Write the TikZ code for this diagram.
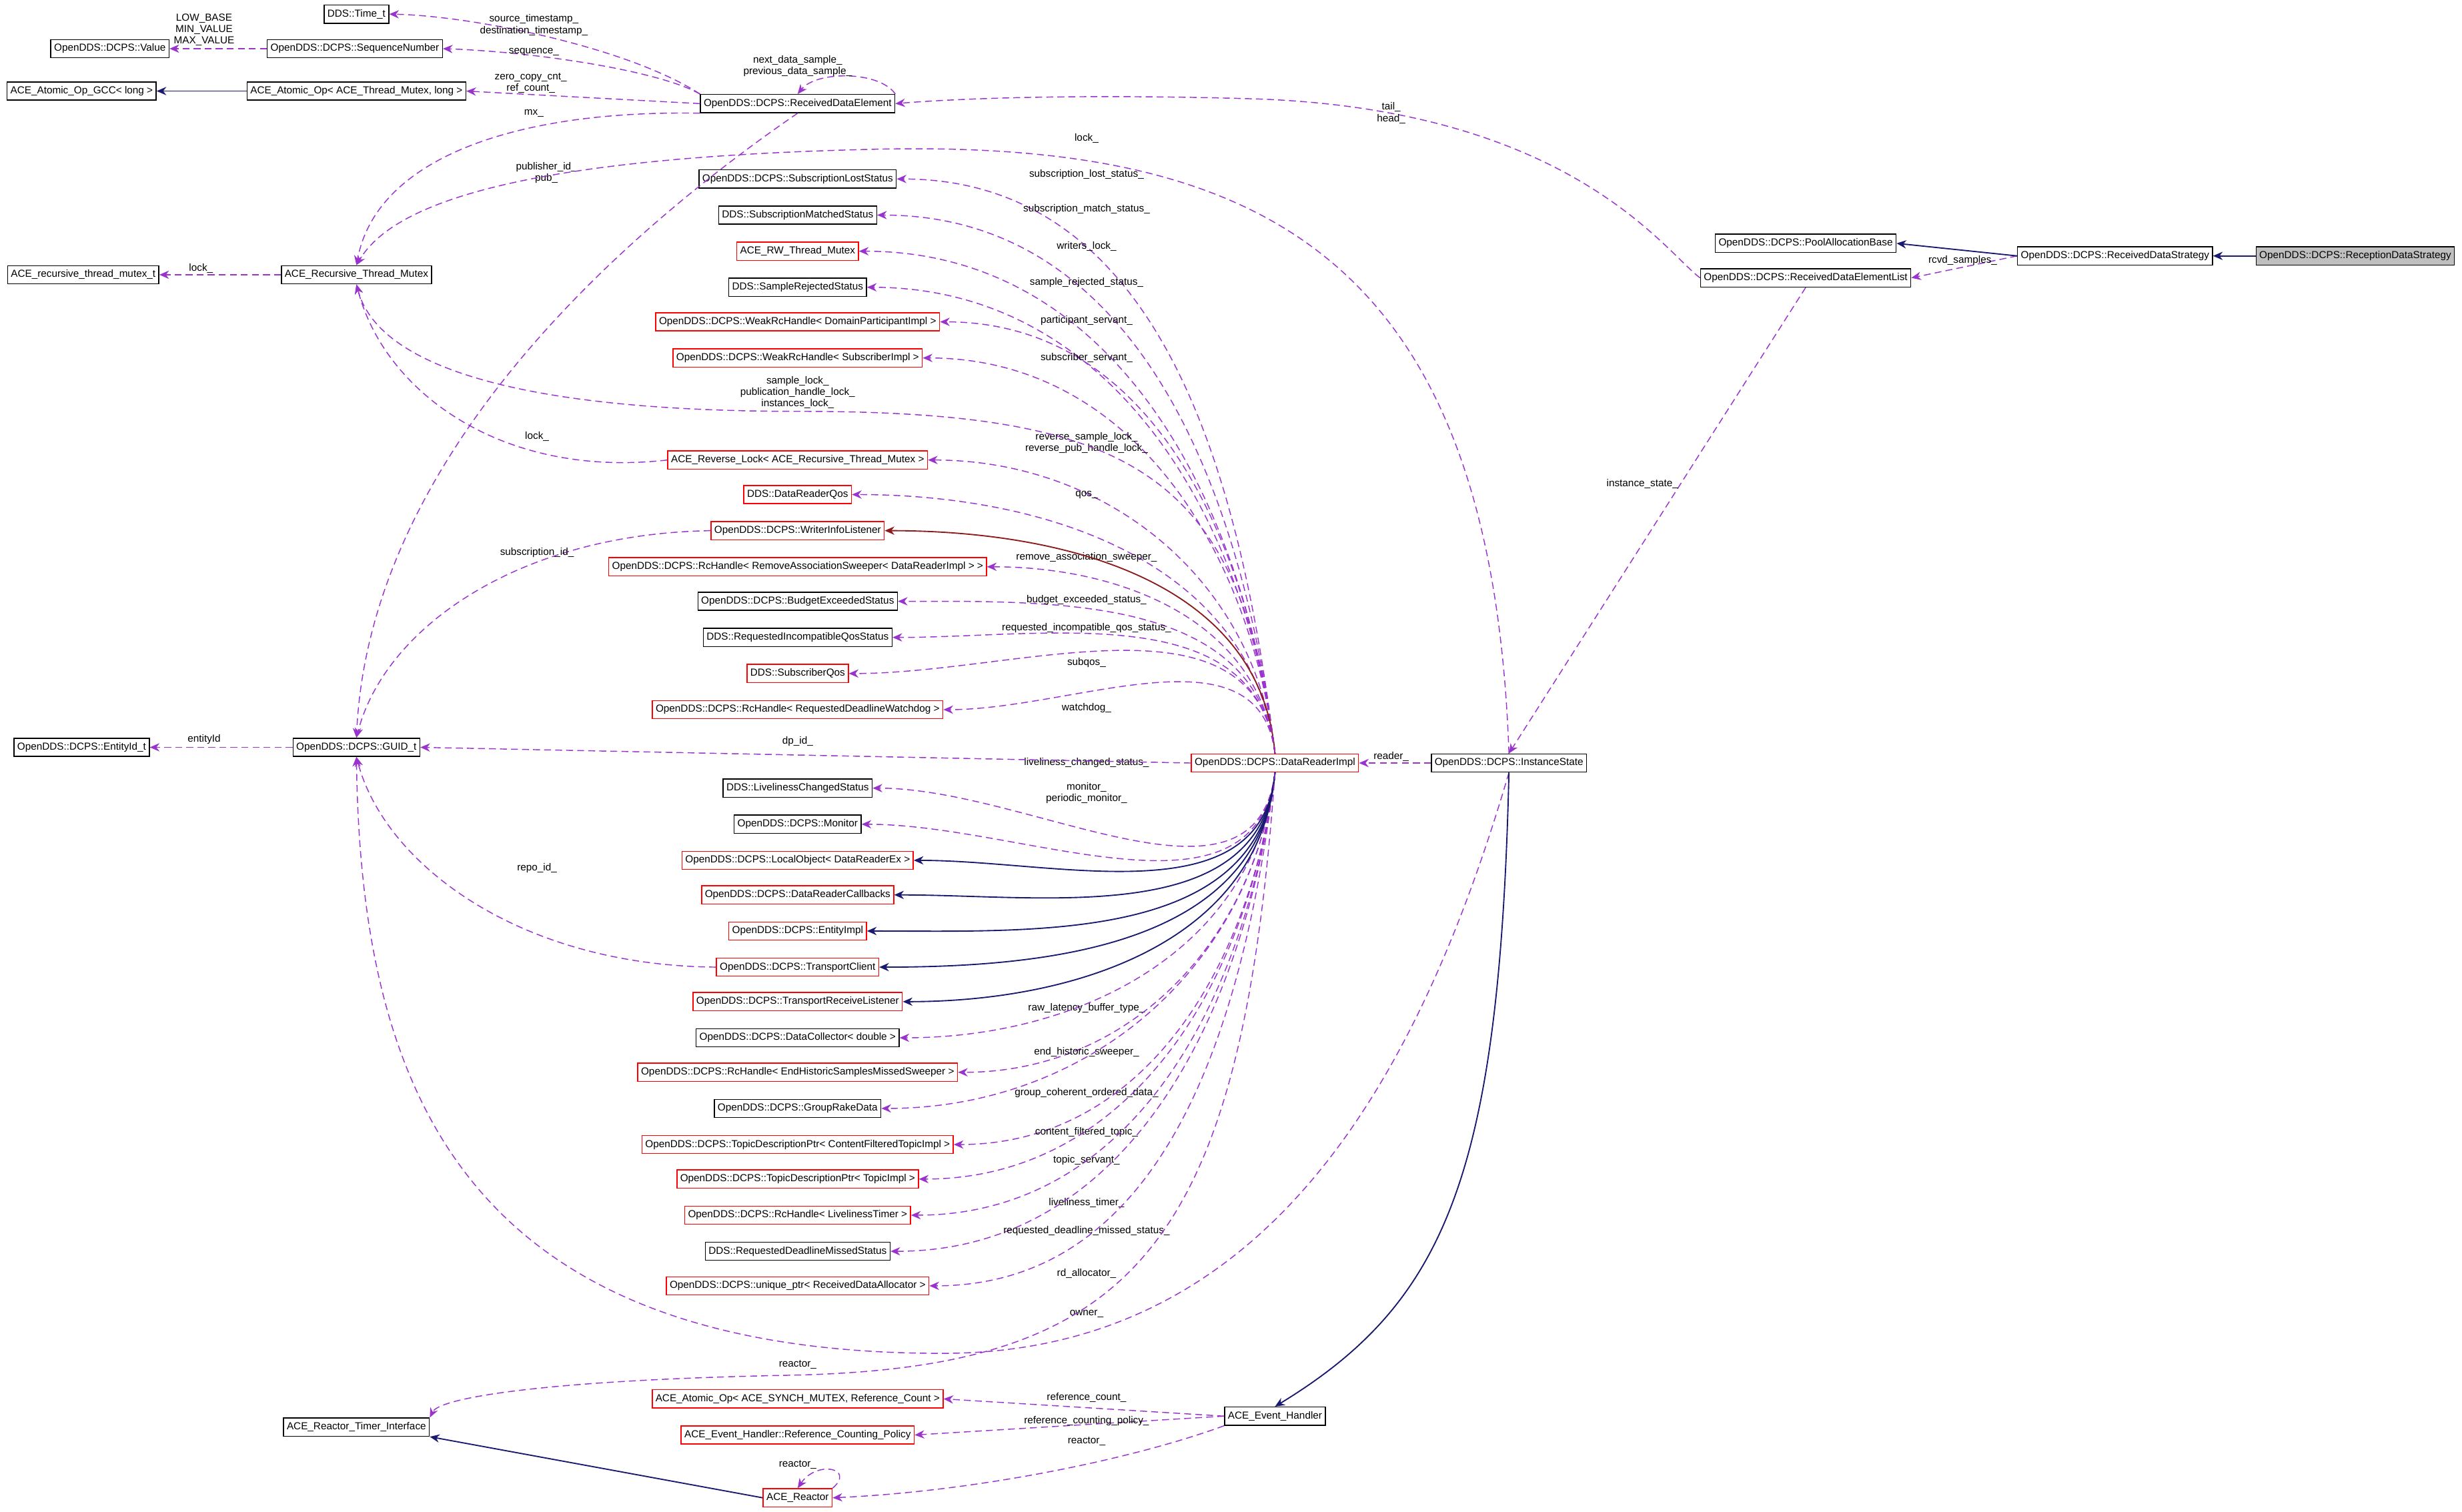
\documentclass[tikz,border=0pt]{standalone}
\usepackage{fontspec}
\setmainfont{Liberation Sans}
\usetikzlibrary{arrows.meta}
\definecolor{assoc}{HTML}{9A32CD}
\definecolor{inherit}{HTML}{191970}
\definecolor{prot}{HTML}{8B1A1A}
\catcode`\_=12

\begin{document}
\begin{tikzpicture}[x=0.02cm,y=-0.02cm,
  cls/.style={draw=black,fill=white,inner sep=1.2pt,minimum height=6.6pt,line width=0.35pt,font=\fontsize{3.7}{4.4}\selectfont},
  part/.style={cls,draw=red},
  here/.style={cls,fill=black!25},
  lbl/.style={font=\fontsize{3.7}{4.2}\selectfont,align=center,inner sep=0.5pt},
  usedby/.style={assoc,dash pattern=on 2.5pt off 1.5pt,line width=0.35pt,-{Stealth[length=3.5pt,width=3pt]}},
  isa/.style={inherit,line width=0.45pt,-{Stealth[length=3.5pt,width=3pt]}},
  protisa/.style={prot,line width=0.45pt,-{Stealth[length=3.5pt,width=3pt]}}]
  \useasboundingbox (0,0) rectangle (1568,963);

  % left column
  \node[cls] (val) at (70,31) {OpenDDS::DCPS::Value};
  \node[cls] (seq) at (226,31) {OpenDDS::DCPS::SequenceNumber};
  \node[cls] (time) at (227,9) {DDS::Time_t};
  \node[cls] (gcc) at (52,58) {ACE_Atomic_Op_GCC< long >};
  \node[cls] (aop) at (227,58) {ACE_Atomic_Op< ACE_Thread_Mutex, long >};
  \node[cls] (rde) at (508,66) {OpenDDS::DCPS::ReceivedDataElement};
  \node[cls] (rmt) at (53,175) {ACE_recursive_thread_mutex_t};
  \node[cls] (rtm) at (227,175) {ACE_Recursive_Thread_Mutex};
  \node[cls] (eid) at (52,476) {OpenDDS::DCPS::EntityId_t};
  \node[cls] (guid) at (227,476) {OpenDDS::DCPS::GUID_t};
  \node[cls] (rti) at (227,909) {ACE_Reactor_Timer_Interface};
  \node[part] (reac) at (508,954) {ACE_Reactor};

  % middle column
  \node[cls] (sls) at (508,114) {OpenDDS::DCPS::SubscriptionLostStatus};
  \node[cls] (sms) at (508,137) {DDS::SubscriptionMatchedStatus};
  \node[part] (rw) at (508,160) {ACE_RW_Thread_Mutex};
  \node[cls] (srs) at (508,183) {DDS::SampleRejectedStatus};
  \node[part] (dpi) at (508,205) {OpenDDS::DCPS::WeakRcHandle< DomainParticipantImpl >};
  \node[part] (subi) at (508,228) {OpenDDS::DCPS::WeakRcHandle< SubscriberImpl >};
  \node[part] (rev) at (508,293) {ACE_Reverse_Lock< ACE_Recursive_Thread_Mutex >};
  \node[part] (qos) at (508,315) {DDS::DataReaderQos};
  \node[part] (wil) at (508,338) {OpenDDS::DCPS::WriterInfoListener};
  \node[part] (ras) at (508,361) {OpenDDS::DCPS::RcHandle< RemoveAssociationSweeper< DataReaderImpl > >};
  \node[cls] (bes) at (508,383) {OpenDDS::DCPS::BudgetExceededStatus};
  \node[cls] (riqs) at (508,406) {DDS::RequestedIncompatibleQosStatus};
  \node[part] (sqos) at (508,429) {DDS::SubscriberQos};
  \node[part] (wd) at (508,452) {OpenDDS::DCPS::RcHandle< RequestedDeadlineWatchdog >};
  \node[cls] (lcs) at (508,502) {DDS::LivelinessChangedStatus};
  \node[cls] (mon) at (508,525) {OpenDDS::DCPS::Monitor};
  \node[part] (lo) at (508,548) {OpenDDS::DCPS::LocalObject< DataReaderEx >};
  \node[part] (cb) at (508,570) {OpenDDS::DCPS::DataReaderCallbacks};
  \node[part] (ei) at (508,593) {OpenDDS::DCPS::EntityImpl};
  \node[part] (tc) at (508,616) {OpenDDS::DCPS::TransportClient};
  \node[part] (trl) at (508,638) {OpenDDS::DCPS::TransportReceiveListener};
  \node[cls] (dc) at (508,661) {OpenDDS::DCPS::DataCollector< double >};
  \node[part] (ehs) at (508,683) {OpenDDS::DCPS::RcHandle< EndHistoricSamplesMissedSweeper >};
  \node[cls] (grd) at (508,706) {OpenDDS::DCPS::GroupRakeData};
  \node[part] (cft) at (508,729) {OpenDDS::DCPS::TopicDescriptionPtr< ContentFilteredTopicImpl >};
  \node[part] (tpi) at (508,751) {OpenDDS::DCPS::TopicDescriptionPtr< TopicImpl >};
  \node[part] (lt) at (508,774) {OpenDDS::DCPS::RcHandle< LivelinessTimer >};
  \node[cls] (rdms) at (508,797) {DDS::RequestedDeadlineMissedStatus};
  \node[part] (rda) at (508,819) {OpenDDS::DCPS::unique_ptr< ReceivedDataAllocator >};
  \node[part] (rc) at (508,891) {ACE_Atomic_Op< ACE_SYNCH_MUTEX, Reference_Count >};
  \node[part] (rcp) at (508,914) {ACE_Event_Handler::Reference_Counting_Policy};

  % right side
  \node[part] (dri) at (812,486) {OpenDDS::DCPS::DataReaderImpl};
  \node[cls] (is) at (961,486) {OpenDDS::DCPS::InstanceState};
  \node[cls] (eh) at (812,902) {ACE_Event_Handler};
  \node[cls] (pab) at (1150,155) {OpenDDS::DCPS::PoolAllocationBase};
  \node[cls] (rdel) at (1150,177) {OpenDDS::DCPS::ReceivedDataElementList};
  \node[cls] (rds) at (1347,163) {OpenDDS::DCPS::ReceivedDataStrategy};
  \node[here] (rcs) at (1500,163) {OpenDDS::DCPS::ReceptionDataStrategy};

  % edges from the data reader
  \foreach \t/\ly/\txt in {sls/111/subscription_lost_status_, sms/133/subscription_match_status_,
      rw/157/writers_lock_, srs/180/sample_rejected_status_, dpi/204/participant_servant_,
      subi/228/subscriber_servant_, rev/282/{reverse_sample_lock_\\reverse_pub_handle_lock_},
      qos/315/qos_, ras/355/remove_association_sweeper_, bes/382/budget_exceeded_status_,
      riqs/400/requested_incompatible_qos_status_, sqos/422/subqos_, wd/451/watchdog_}{
    \draw[usedby] (dri.north) to[out=97,in=0] (\t.east);
    \node[lbl] at (692,\ly) {\txt};
  }
  \foreach \t/\ly/\txt in {lcs/486/liveliness_changed_status_, mon/505/{monitor_\\periodic_monitor_},
      dc/642/raw_latency_buffer_type_, ehs/670/end_historic_sweeper_, grd/696/group_coherent_ordered_data_,
      cft/721/content_filtered_topic_, tpi/739/topic_servant_, lt/766/liveliness_timer_,
      rdms/784/requested_deadline_missed_status_, rda/811/rd_allocator_}{
    \draw[usedby] (dri.south) to[out=-97,in=0] (\t.east);
    \node[lbl] at (692,\ly) {\txt};
  }
  \foreach \t in {lo,cb,ei,tc,trl}
    \draw[isa] (dri.south) to[out=-95,in=0] (\t.east);
  \draw[protisa] (dri.north) to[out=95,in=0] (wil.east);
  \draw[usedby] (dri.west) -- (guid.east);
  \node[lbl] at (508,472) {dp_id_};

  % received data element
  \draw[usedby] (rde.north west) .. controls (400,30) and (300,10) .. (time.east);
  \node[lbl] at (340,16) {source_timestamp_\\destination_timestamp_};
  \draw[usedby] (rde.north west) .. controls (420,45) and (340,33) .. (seq.east);
  \node[lbl] at (340,33) {sequence_};
  \draw[usedby] (seq.west) -- (val.east);
  \node[lbl] at (130,19) {LOW_BASE\\MIN_VALUE\\MAX_VALUE};
  \draw[isa] (aop.west) -- (gcc.east);
  \draw[usedby] (rde.west) -- (aop.east);
  \node[lbl] at (338,53) {zero_copy_cnt_\\ref_count_};
  \draw[usedby] (rde.north east) .. controls (560,45) and (520,45) .. (rde.north);
  \node[lbl] at (508,42) {next_data_sample_\\previous_data_sample_};
  \draw[usedby] (rde.south west) .. controls (330,70) and (240,100) .. (rtm.north);
  \node[lbl] at (340,72) {mx_};
  \draw[usedby] (rde.south) .. controls (380,160) and (235,300) .. (guid.north);
  \node[lbl] at (348,110) {publisher_id_\\pub_};

  % mutexes and ids
  \draw[usedby] (rtm.west) -- (rmt.east);
  \node[lbl] at (128,171) {lock_};
  \draw[usedby] (is.north) .. controls (950,160) and (800,90) .. (560,95) .. controls (330,100) and (250,130) .. (rtm.north);
  \node[lbl] at (692,88) {lock_};
  \draw[usedby] (dri.north) .. controls (790,300) and (720,262) .. (508,262) .. controls (320,262) and (240,230) .. (rtm.south);
  \node[lbl] at (508,250) {sample_lock_\\publication_handle_lock_\\instances_lock_};
  \draw[usedby] (rev.west) .. controls (320,305) and (245,250) .. (rtm.south);
  \node[lbl] at (342,278) {lock_};
  \draw[usedby] (wil.west) .. controls (330,340) and (245,400) .. (guid.north);
  \node[lbl] at (342,352) {subscription_id_};
  \draw[usedby] (guid.west) -- (eid.east);
  \node[lbl] at (130,471) {entityId};
  \draw[usedby] (tc.west) .. controls (330,615) and (245,550) .. (guid.south);
  \node[lbl] at (342,553) {repo_id_};
  \draw[usedby] (is.south) .. controls (900,700) and (800,862) .. (600,862) .. controls (300,862) and (230,700) .. (guid.south);
  \node[lbl] at (692,837) {owner_};

  % reactor parts
  \draw[usedby] (dri.south) .. controls (790,800) and (720,872) .. (500,876) .. controls (350,879) and (280,890) .. (rti.north east);
  \node[lbl] at (508,869) {reactor_};
  \draw[isa] (reac.west) -- (rti.south east);
  \draw[usedby] (reac.north east) .. controls (545,935) and (520,930) .. (reac.north);
  \node[lbl] at (508,933) {reactor_};
  \draw[usedby] (eh.west) -- (rc.east);
  \node[lbl] at (692,890) {reference_count_};
  \draw[usedby] (eh.west) -- (rcp.east);
  \node[lbl] at (692,905) {reference_counting_policy_};
  \draw[usedby] (eh.south west) .. controls (720,930) and (620,950) .. (reac.east);
  \node[lbl] at (692,918) {reactor_};
  \draw[isa] (is.south) .. controls (955,750) and (920,830) .. (eh.north);

  % strategy side
  \draw[usedby] (is.west) -- (dri.east);
  \node[lbl] at (886,482) {reader_};
  \draw[usedby] (rdel.south) -- (is.north);
  \node[lbl] at (1046,308) {instance_state_};
  \draw[usedby] (rdel.west) .. controls (1060,160) and (1000,70) .. (800,63) .. controls (700,60) and (620,62) .. (rde.east);
  \node[lbl] at (886,72) {tail_\\head_};
  \draw[usedby] (rds.west) -- (rdel.east);
  \node[lbl] at (1250,166) {rcvd_samples_};
  \draw[isa] (rds.west) -- (pab.east);
  \draw[isa] (rcs.west) -- (rds.east);
\end{tikzpicture}
\end{document}
